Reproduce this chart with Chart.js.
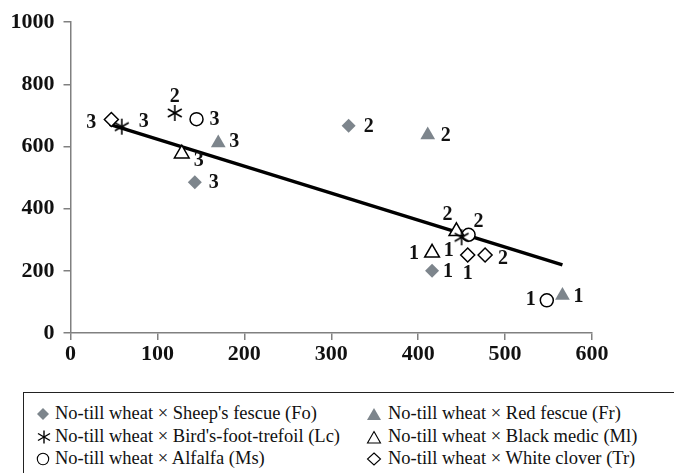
<!DOCTYPE html>
<html>
<head>
<meta charset="utf-8">
<script src="https://cdn.jsdelivr.net/npm/chart.js@4/dist/chart.umd.min.js"></script>
<style>
  html, body { margin: 0; padding: 0; background: #fff; width: 674px; height: 473px; overflow: hidden; }
  #wrap { position: relative; width: 674px; height: 473px; }
  #c { position: absolute; left: 0; top: 0; }
  #legend { position: absolute; left: 23px; top: 392px; width: 700px; height: 120px;
            border: 1.5px solid #222; box-sizing: border-box;
            font-family: 'Liberation Serif', 'DejaVu Serif', serif; font-size: 18.5px; color: #111; }
  .item { position: absolute; height: 22px; line-height: 22px; white-space: nowrap; }
  .item svg { position: absolute; left: 0; top: 5px; }
  .item span { position: absolute; left: 30px; top: 0; }
</style>
</head>
<body>
<div id="wrap">
  <canvas id="c" width="674" height="385"></canvas>
  <div id="legend"></div>
</div>
<script>
// ---- data ----
const seriesNames = [
  "No-till wheat \u00d7 Sheep's fescue (Fo)",
  "No-till wheat \u00d7 Red fescue (Fr)",
  "No-till wheat \u00d7 Bird's-foot-trefoil (Lc)",
  "No-till wheat \u00d7 Black medic (Ml)",
  "No-till wheat \u00d7 Alfalfa (Ms)",
  "No-till wheat \u00d7 White clover (Tr)"
];
const pointLabels = ["1", "2", "3"];
const foX = [416, 320, 143];  const foY = [200, 667, 485];
const frX = [566, 411, 170];  const frY = [121, 637, 611];
const lcX = [450, 120, 59];   const lcY = [308, 708, 664];
const mlX = [416, 444, 128];  const mlY = [258, 327, 577];
const msX = [548, 458, 145];  const msY = [105, 316, 688];
const trX = [457, 477, 47];   const trY = [251, 251, 687];
const trendX = [45, 566];     const trendY = [671, 219];
const xTicks = [0, 100, 200, 300, 400, 500, 600];
const yTicks = [0, 200, 400, 600, 800, 1000];

// ---- styles ----
const GREY = '#7d858c';
const SERIF = "'Liberation Serif', 'DejaVu Serif', serif";
Chart.defaults.font.family = SERIF;
const labelOffsets = [
  [[15, 0], [19, 0], [18, 0]],      // Fo
  [[15, 0], [17, 0], [15, -2]],     // Fr
  [[-12, 13], [0, -17], [21, -6]],  // Lc
  [[-17, 0], [-8, -18], [16, 6]],   // Ml
  [[-15, -2], [9, -14], [17, 0]],   // Ms
  [[0, 18], [17, 3], [-19, 2]]      // Tr
];

function pts(xs, ys) { return xs.map((x, i) => ({ x: x, y: ys[i] })); }

// custom six-armed asterisk point style
function makeAsterisk(size, lw) {
  const cv = document.createElement('canvas');
  cv.width = size; cv.height = size;
  const g = cv.getContext('2d');
  const c = size / 2, r = size / 2 - 1;
  g.strokeStyle = '#000'; g.lineWidth = lw; g.lineCap = 'butt';
  [90, 30, -30].forEach(a => {
    const t = a * Math.PI / 180;
    g.beginPath();
    g.moveTo(c - r * Math.cos(t), c - r * Math.sin(t));
    g.lineTo(c + r * Math.cos(t), c + r * Math.sin(t));
    g.stroke();
  });
  return cv;
}
const asterisk = makeAsterisk(18, 1.6);

const datasets = [
  { label: seriesNames[0], data: pts(foX, foY), pointStyle: 'rectRot', pointRadius: 7,
    backgroundColor: GREY, borderColor: GREY, borderWidth: 0, labelIdx: 0 },
  { label: seriesNames[1], data: pts(frX, frY), pointStyle: 'triangle', pointRadius: 8.5,
    backgroundColor: GREY, borderColor: GREY, borderWidth: 0, labelIdx: 1 },
  { label: seriesNames[2], data: pts(lcX, lcY), pointStyle: asterisk, pointRadius: 9,
    backgroundColor: '#000', borderColor: '#000', labelIdx: 2 },
  { label: seriesNames[3], data: pts(mlX, mlY), pointStyle: 'triangle', pointRadius: 8.5,
    backgroundColor: '#fff', borderColor: '#000', borderWidth: 1.5, labelIdx: 3 },
  { label: seriesNames[4], data: pts(msX, msY), pointStyle: 'circle', pointRadius: 6.5,
    backgroundColor: '#fff', borderColor: '#000', borderWidth: 1.5, labelIdx: 4 },
  { label: seriesNames[5], data: pts(trX, trY), pointStyle: 'rectRot', pointRadius: 7,
    backgroundColor: '#fff', borderColor: '#000', borderWidth: 1.5, labelIdx: 5 },
  { label: 'trend', data: pts(trendX, trendY), showLine: true, pointRadius: 0,
    borderColor: '#000', borderWidth: 3.5, backgroundColor: '#000', order: 10 }
];

const labelPlugin = {
  id: 'pointLabels',
  afterDatasetsDraw(chart) {
    const ctx = chart.ctx;
    ctx.save();
    ctx.font = "bold 20px " + SERIF;
    ctx.fillStyle = '#111';
    ctx.textAlign = 'center';
    ctx.textBaseline = 'middle';
    chart.data.datasets.forEach((ds, di) => {
      if (ds.labelIdx === undefined) return;
      const meta = chart.getDatasetMeta(di);
      meta.data.forEach((el, i) => {
        const off = labelOffsets[ds.labelIdx][i];
        const txt = pointLabels[i];
        const w = ctx.measureText(txt).width;
        let x = el.x + off[0];
        if (off[0] > 2) x += w / 2 - 4;
        else if (off[0] < -2) x -= w / 2 - 4;
        ctx.fillText(txt, x, el.y + off[1] + 1);
      });
    });
    ctx.restore();
  }
};

const tickFont = { family: SERIF, size: 22, weight: 'bold' };

new Chart(document.getElementById('c'), {
  type: 'scatter',
  data: { datasets: datasets },
  plugins: [labelPlugin],
  options: {
    responsive: false,
    animation: false,
    layout: { padding: { top: 17, right: 82, left: 0, bottom: 0 } },
    plugins: { legend: { display: false }, tooltip: { enabled: false } },
    scales: {
      x: {
        type: 'linear', min: 0, max: 600,
        afterBuildTicks: s => { s.ticks = xTicks.map(v => ({ value: v })); },
        afterFit: s => { s.height = 52; },
        grid: { drawOnChartArea: false, drawTicks: true, tickLength: 7, color: '#808080', lineWidth: 1.5 },
        border: { color: '#808080', width: 1.5 },
        ticks: { color: '#111', padding: 1, maxRotation: 0, font: tickFont,
                 callback: v => String(v) }
      },
      y: {
        type: 'linear', min: 0, max: 1000,
        afterBuildTicks: s => { s.ticks = yTicks.map(v => ({ value: v })); },
        afterFit: s => { s.width = 70.5; },
        grid: { drawOnChartArea: false, drawTicks: true, tickLength: 7, color: '#808080', lineWidth: 1.5 },
        border: { color: '#808080', width: 1.5 },
        ticks: { color: '#111', padding: 9, font: tickFont,
                 callback: v => String(v) }
      }
    }
  }
});

// ---- legend (HTML, two columns) ----
const legendSymbols = [
  '<svg width="14" height="14"><polygon points="7,1 13,7 7,13 1,7" fill="' + GREY + '"/></svg>',
  '<svg width="16" height="14"><polygon points="8,1 15,13 1,13" fill="' + GREY + '"/></svg>',
  '<svg width="16" height="14"><g stroke="#000" stroke-width="1.4"><line x1="8" y1="0.5" x2="8" y2="13.5"/><line x1="2" y1="3.5" x2="14" y2="10.5"/><line x1="2" y1="10.5" x2="14" y2="3.5"/></g></svg>',
  '<svg width="16" height="14"><polygon points="8,1.5 14.5,13 1.5,13" fill="#fff" stroke="#000" stroke-width="1.1"/></svg>',
  '<svg width="14" height="14"><circle cx="7" cy="7" r="5.7" fill="#fff" stroke="#000" stroke-width="1.1"/></svg>',
  '<svg width="16" height="14"><polygon points="8,1 14.5,7 8,13 1.5,7" fill="#fff" stroke="#000" stroke-width="1.1"/></svg>'
];
const legendEl = document.getElementById('legend');
const colLeft = [12, 342];
const rowTop = [9, 32, 54];
seriesNames.forEach((name, i) => {
  const d = document.createElement('div');
  d.className = 'item';
  d.style.left = colLeft[i % 2] + 'px';
  d.style.top = rowTop[Math.floor(i / 2)] + 'px';
  d.innerHTML = legendSymbols[i];
  const t = document.createElement('span');
  t.textContent = name;
  t.style.left = (i % 2 === 0 ? 19 : 22) + 'px';
  d.appendChild(t);
  legendEl.appendChild(d);
});
</script>
</body>
</html>
